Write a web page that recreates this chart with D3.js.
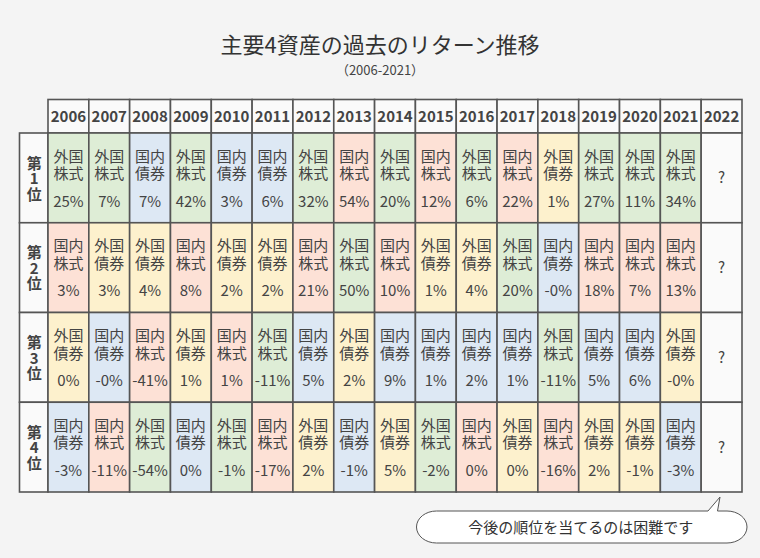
<!DOCTYPE html>
<html><head><meta charset="utf-8">
<script src="https://cdn.jsdelivr.net/npm/d3@7"></script>
<style>
html,body{margin:0;padding:0;background:#f4f4f4;}
svg{display:block;font-family:"Noto Sans CJK JP","Noto Sans",sans-serif;}
</style></head>
<body>
<svg id="chart" width="760" height="558"></svg>
<script>
const title = "主要4資産の過去のリターン推移";
const subtitle = "（2006-2021）";
const years = ["2006","2007","2008","2009","2010","2011","2012","2013","2014","2015","2016","2017","2018","2019","2020","2021","2022"];
const rankLabels = [["第","1","位"],["第","2","位"],["第","3","位"],["第","4","位"]];
const assetTypes = ["外国株式","国内株式","国内債券","外国債券"];
const assetColors = ["#deedd6","#fde1d6","#dde8f4","#fdf1cd"];
const rank1Assets = ["外国株式","外国株式","国内債券","外国株式","国内債券","国内債券","外国株式","国内株式","外国株式","国内株式","外国株式","国内株式","外国債券","外国株式","外国株式","外国株式"];
const rank1Returns = ["25%","7%","7%","42%","3%","6%","32%","54%","20%","12%","6%","22%","1%","27%","11%","34%"];
const rank2Assets = ["国内株式","外国債券","外国債券","国内株式","外国債券","外国債券","国内株式","外国株式","国内株式","外国債券","外国債券","外国株式","国内債券","国内株式","国内株式","国内株式"];
const rank2Returns = ["3%","3%","4%","8%","2%","2%","21%","50%","10%","1%","4%","20%","-0%","18%","7%","13%"];
const rank3Assets = ["外国債券","国内債券","国内株式","外国債券","国内株式","外国株式","国内債券","外国債券","国内債券","国内債券","国内債券","国内債券","外国株式","国内債券","国内債券","外国債券"];
const rank3Returns = ["0%","-0%","-41%","1%","1%","-11%","5%","2%","9%","1%","2%","1%","-11%","5%","6%","-0%"];
const rank4Assets = ["国内債券","国内株式","外国株式","国内債券","外国株式","国内株式","外国債券","国内債券","外国債券","外国株式","国内株式","外国債券","国内株式","外国債券","外国債券","国内債券"];
const rank4Returns = ["-3%","-11%","-54%","0%","-1%","-17%","2%","-1%","5%","-2%","0%","0%","-16%","2%","-1%","-3%"];
const unknownLabel = "?";
const noteText = "今後の順位を当てるのは困難です";

const assetsByRank = [rank1Assets, rank2Assets, rank3Assets, rank4Assets];
const returnsByRank = [rank1Returns, rank2Returns, rank3Returns, rank4Returns];

const svg = d3.select("#chart");
const W = 760;
const left = 19.5, colStart = 48, right = 742, headTop = 99.5, headBottom = 133, bottom = 492;
const stroke = "#555", textColor = "#444", lightFill = "#fafafa";

const color = d3.scaleOrdinal().domain(assetTypes).range(assetColors);
const x = d3.scaleBand().domain(years).range([colStart, right]);
const y = d3.scaleBand().domain(d3.range(4)).range([headBottom, bottom]);

svg.append("text").attr("x", W/2).attr("y", 53).attr("text-anchor","middle")
  .attr("font-size", 22).attr("fill", "#333").text(title);
svg.append("text").attr("x", W/2).attr("y", 75).attr("text-anchor","middle")
  .attr("font-size", 13).attr("fill", "#444").text(subtitle);

// header
const head = svg.append("g");
head.selectAll("rect").data(years).join("rect")
  .attr("x", d => x(d)).attr("y", headTop).attr("width", x.bandwidth()).attr("height", headBottom - headTop)
  .attr("fill", lightFill).attr("stroke", stroke).attr("stroke-width", 1.6);
head.selectAll("text").data(years).join("text")
  .attr("x", d => x(d) + x.bandwidth()/2).attr("y", (headTop + headBottom)/2 + 5.5)
  .attr("text-anchor","middle").attr("font-size", 15).attr("font-weight", 600).attr("fill", textColor)
  .text(d => d);

// rank column
const rk = svg.append("g");
rankLabels.forEach((lab, i) => {
  rk.append("rect").attr("x", left).attr("y", y(i)).attr("width", colStart - left).attr("height", y.bandwidth())
    .attr("fill", lightFill).attr("stroke", stroke).attr("stroke-width", 1.6);
  const t = rk.append("text").attr("text-anchor","middle").attr("font-size", 15).attr("font-weight", 600).attr("fill", textColor);
  lab.forEach((ch, j) => {
    t.append("tspan").attr("x", (left + colStart)/2 + 0.5).attr("y", y(i) + 35.5 + j*15.5).text(ch);
  });
});

// body cells
const cells = [];
assetsByRank.forEach((arr, r) => {
  years.forEach((yr, c) => {
    cells.push({r, yr, asset: arr[c], ret: returnsByRank[r][c]});
  });
});
const g = svg.append("g");
const cg = g.selectAll("g.cell").data(cells).join("g").attr("class","cell")
  .attr("transform", d => `translate(${x(d.yr)},${y(d.r)})`);
cg.append("rect").attr("width", x.bandwidth()).attr("height", y.bandwidth())
  .attr("fill", d => d.asset ? color(d.asset) : lightFill).attr("stroke", stroke).attr("stroke-width", 1.6);
const cx = x.bandwidth()/2;
const ct = cg.filter(d => d.asset).append("text").attr("text-anchor","middle")
  .attr("font-size", 15).attr("fill", textColor);
ct.append("tspan").attr("x", cx).attr("y", 28.5).text(d => d.asset.slice(0,2));
ct.append("tspan").attr("x", cx).attr("y", 46).text(d => d.asset.slice(2));
ct.append("tspan").attr("x", cx).attr("y", 73.5).text(d => d.ret);
cg.filter(d => !d.asset).append("text").attr("x", cx).attr("y", y.bandwidth()/2 + 5.5).attr("text-anchor","middle")
  .attr("font-size", 15).attr("fill", textColor).text(unknownLabel);

// speech bubble
const bx0 = 416.5, bx1 = 747, by0 = 511, by1 = 543, rx = 20, ry = 16;
const tailL = 708, tailR = 717.5, tipX = 720, tipY = 497;
const bubble = `M${bx0+rx},${by0} L${tailL},${by0} L${tipX},${tipY} L${tailR},${by0} L${bx1-rx},${by0} A${rx},${ry} 0 0 1 ${bx1-rx},${by1} L${bx0+rx},${by1} A${rx},${ry} 0 0 1 ${bx0+rx},${by0} Z`;
svg.append("path").attr("d", bubble).attr("fill", "#fff").attr("stroke", "#555").attr("stroke-width", 1);
svg.append("text").attr("x", (bx0+bx1)/2 - 1).attr("y", (by0+by1)/2 + 5.5).attr("text-anchor","middle")
  .attr("font-size", 15).attr("fill", "#333").text(noteText);
</script>
</body></html>
